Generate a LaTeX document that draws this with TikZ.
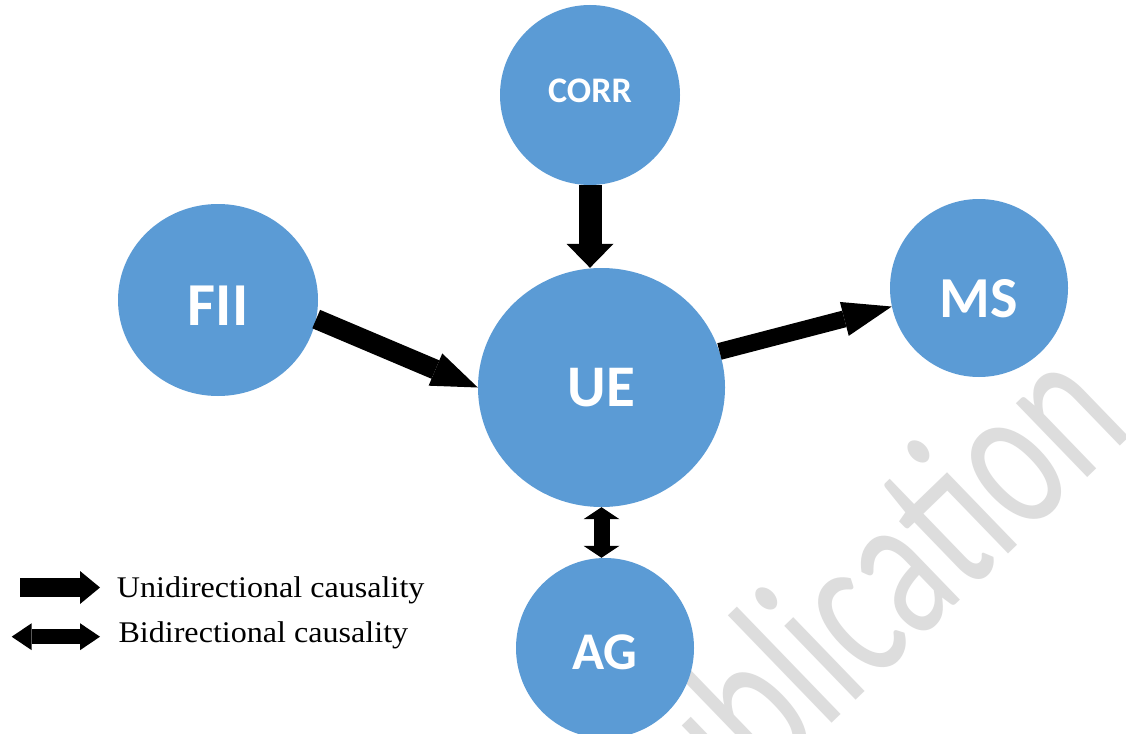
\documentclass[tikz,border=0pt]{standalone}
\usepackage{fontspec}
\usepackage{graphicx}
\setmainfont{Liberation Serif}
\newfontfamily\calfont{Carlito}
\usetikzlibrary{arrows.meta,shapes.geometric,calc}
\definecolor{nodeblue}{HTML}{5B9BD5}
\definecolor{wmgray}{HTML}{DDDDDD}
\newcommand{\lowtext}[2]{\raisebox{#1}[0pt][0pt]{#2}}
\begin{document}
\begin{tikzpicture}[x=1pt,y=-1pt,
  bubble/.style={ellipse,fill=nodeblue,draw=none,inner sep=0pt,text=white},
  legendtext/.style={anchor=base west,inner sep=0pt,font=\fontsize{30}{30}\selectfont},
  blk/.style={draw=black,line cap=butt}]
\clip (0,0) rectangle (1126,733);
\fill[white] (0,0) rectangle (1126,733);
% watermark
\node[rotate=44,anchor=base west,text=wmgray,inner sep=0pt,font=\calfont\fontsize{215}{215}\selectfont] (wm) at (659,891) {\scalebox{0.68}[1]{publication}};
% nodes
\node[bubble,minimum width=180pt,minimum height=180pt,font=\calfont\bfseries\fontsize{36}{36}\selectfont] (corr) at (590,95) {\lowtext{-7.5pt}{CORR}};
\node[bubble,minimum width=200pt,minimum height=192pt,font=\calfont\bfseries\fontsize{61}{61}\selectfont] (fii) at (218,300) {\lowtext{-25.5pt}{FII}};
\node[bubble,minimum width=247pt,minimum height=239pt,font=\calfont\bfseries\fontsize{59}{59}\selectfont] (ue) at (601.5,387.5) {\lowtext{-19pt}{UE}};
\node[bubble,minimum width=178pt,minimum height=178pt,font=\calfont\bfseries\fontsize{58}{58}\selectfont] (ms) at (979,288) {\lowtext{-29.5pt}{MS}};
\node[bubble,minimum width=178pt,minimum height=180pt,font=\calfont\bfseries\fontsize{53}{53}\selectfont] (ag) at (605,648) {\lowtext{-21pt}{AG}};
% connectors
\draw[blk,line width=23pt,-{Triangle[width=47pt,length=24pt,line width=0pt]}] (corr.south) -- (corr.south |- ue.north);
\draw[blk,line width=20pt,-{Triangle[width=35pt,length=46pt,line width=0pt]}] (fii.-11) -- (ue.west);
\draw[blk,line width=17pt,-{Triangle[width=35pt,length=49pt,line width=0pt]}] (ue.17) -- (ms.-168);
\draw[blk,line width=16pt,{Triangle[width=36pt,length=12pt,line width=0pt]}-{Triangle[width=36pt,length=12pt,line width=0pt]}] (ue.south) -- (ue.south |- ag.north);
% legend
\coordinate (u1) at (20,587.5);
\coordinate (u2) at (100,587.5);
\draw[blk,line width=18.3pt,-{Triangle[width=33pt,length=20pt,line width=0pt]}] (u1) -- (u2);
\coordinate (b1) at (11.7,636.7);
\coordinate (b2) at (100,636.7);
\draw[blk,line width=15pt,{Triangle[width=27pt,length=20pt,line width=0pt]}-{Triangle[width=27pt,length=20pt,line width=0pt]}] (b1) -- (b2);
\node[legendtext] (ul) at (116.7,597.7) {\scalebox{1.07}[1]{Unidirectional causality}};
\node[legendtext] (bl) at (118.3,642.3) {\scalebox{1.07}[1]{Bidirectional causality}};
\end{tikzpicture}
\end{document}
